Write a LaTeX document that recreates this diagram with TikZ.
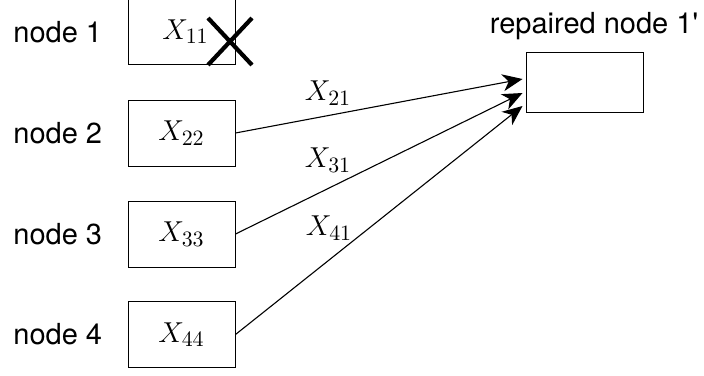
\documentclass[tikz,border=0pt]{standalone}
\usepackage{fontspec}
\setmainfont{TeX Gyre Heros}
\newfontfamily\plainhv{TeX Gyre Heros}
\usetikzlibrary{arrows.meta}
\begin{document}
\begin{tikzpicture}[x=0.5pt,y=-0.5pt,
  box/.style={draw, line width=0.5pt, minimum width=53.5pt, minimum height=33pt, inner sep=0pt, font=\fontsize{15}{18}\selectfont},
  lbl/.style={anchor=west, inner sep=0pt, font=\fontsize{14.5}{17}\selectfont},
  elbl/.style={inner sep=0pt, font=\fontsize{15}{18}\selectfont},
  arr/.style={line width=0.55pt, -{Stealth[length=10pt,width=8.5pt,inset=3pt]}}]
\useasboundingbox (0,0) rectangle (704,375);
\node[box] (n1) at (181.5,31.5) {$\;X_{11}$};
\node[box] (n2) at (181.5,133) {$X_{22}$};
\node[box] (n3) at (181.5,234) {$X_{33}$};
\node[box] (n4) at (181.5,334.5) {$X_{44}$};
\node[lbl] (l1) at (13,32) {node 1};
\node[lbl] (l2) at (13,133) {node 2};
\node[lbl] (l3) at (13,234) {node 3};
\node[lbl] (l4) at (13,334.5) {node 4};
\node[draw, line width=0.5pt, minimum width=58.5pt, minimum height=30pt, inner sep=0pt] (rep) at (584.5,82) {};
\node[anchor=base, inner sep=0pt, font=\fontsize{14.5}{17}\plainhv] (rl) at (594,33) {repaired node 1'};
\draw[line width=2.1pt] (208,18) -- (252,65) (208,65) -- (252,18);
\draw[arr] (n2.east) -- ([xshift=-1.5pt,yshift=1.5pt]rep.west);
\draw[arr] (n3.east) -- ([xshift=-1.5pt,yshift=-5.5pt]rep.west);
\draw[arr] (n4.east) -- ([xshift=-1.5pt,yshift=-12pt]rep.west);
\node[elbl] (x21) at (328,93) {$X_{21}$};
\node[elbl] (x31) at (328,160) {$X_{31}$};
\node[elbl] (x41) at (329,228) {$X_{41}$};
\end{tikzpicture}
\end{document}
